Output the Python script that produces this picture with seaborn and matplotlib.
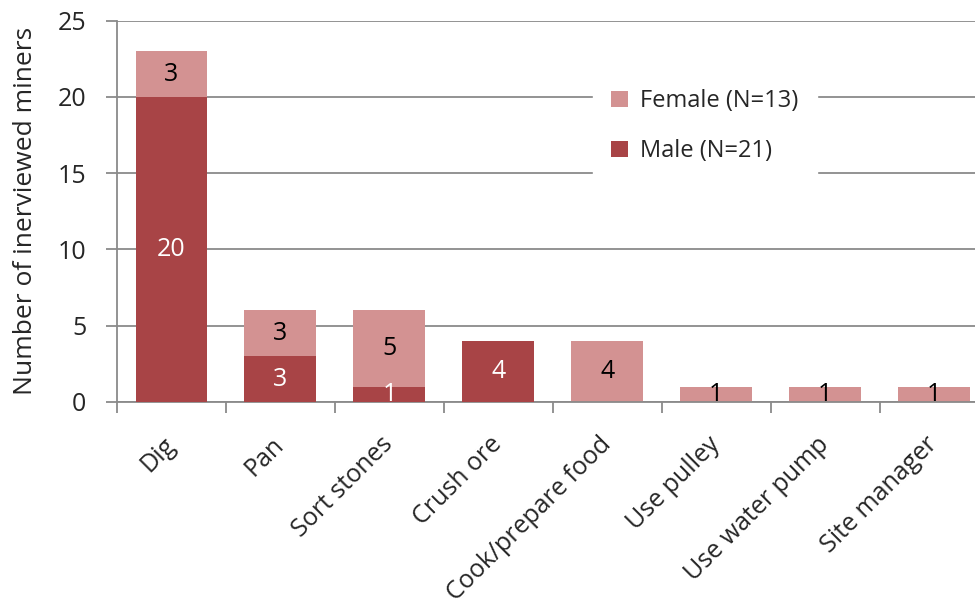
import matplotlib
matplotlib.use("Agg")
import matplotlib.pyplot as plt
import numpy as np
import pandas as pd
import seaborn as sns

# data
activities = ["Dig", "Pan", "Sort stones", "Crush ore", "Cook/prepare food",
              "Use pulley", "Use water pump", "Site manager"]
male = [20, 3, 1, 4, 0, 0, 0, 0]
female = [3, 3, 5, 0, 4, 1, 1, 1]
male_label = "Male (N=21)"
female_label = "Female (N=13)"

male_color = "#A84446"
female_color = "#D39292"
grid_color = "#8A8A8A"

sns.set_theme(style="white")
plt.rcParams["font.family"] = ["Open Sans", "DejaVu Sans"]

df = pd.DataFrame({"activity": activities, "male": male, "female": female})
df["total"] = df["male"] + df["female"]

fig = plt.figure(figsize=(9.75, 6.08), dpi=100)
ax = fig.add_axes([0.12, 0.339, 0.894, 0.627])

# totals first (female colour) then male on top -> stacked look
sns.barplot(data=df, x="activity", y="total", color=female_color, width=0.66,
            saturation=1, ax=ax, zorder=2, label=female_label, linewidth=0)
sns.barplot(data=df, x="activity", y="male", color=male_color, width=0.66,
            saturation=1, ax=ax, zorder=3, label=male_label, linewidth=0)

ax.set_xlim(-0.5, len(activities) - 0.5)
ax.set_ylim(0, 25)
ax.set_yticks(range(0, 26, 5))
ax.yaxis.grid(True, color=grid_color, linewidth=1.3, zorder=0)
ax.set_axisbelow(True)
for s in ["top", "right"]:
    ax.spines[s].set_visible(False)
for s in ["left", "bottom"]:
    ax.spines[s].set_color(grid_color)
    ax.spines[s].set_linewidth(1.3)

fs = 18
ax.tick_params(axis="y", length=8, width=1.3, color=grid_color, left=True,
               labelsize=fs, pad=14)
ax.set_xticks(np.arange(len(activities) + 1) - 0.5, minor=True)
ax.tick_params(axis="x", which="minor", length=8, width=1.3, color=grid_color,
               bottom=True)
ax.tick_params(axis="x", which="major", length=0, labelsize=fs, pad=28)
ax.set_xticks(range(len(activities)))
ax.set_xticklabels(activities, rotation=45, ha="right", va="center",
                   rotation_mode="anchor")

ax.set_xlabel("")
ax.set_ylabel("Number of inerviewed miners", fontsize=19, labelpad=14)

# segment value labels
for i, (m, f) in enumerate(zip(male, female)):
    if m > 0:
        ax.text(i, m / 2, str(m), ha="center", va="center", color="white",
                fontsize=fs, zorder=4)
    if f > 0:
        ax.text(i, m + f / 2, str(f), ha="center", va="center", color="black",
                fontsize=fs, zorder=4)

handles, labels = ax.get_legend_handles_labels()
leg = ax.legend(handles, labels, loc="upper left",
                bbox_to_anchor=(0.532, 0.9), frameon=True, fancybox=False,
                edgecolor="white", facecolor="white", framealpha=1,
                fontsize=17, handlelength=0.7, handleheight=0.7,
                labelspacing=1.1, borderpad=0.8, handletextpad=0.5)
leg.set_zorder(5)

fig.savefig("out.png", dpi=100)
